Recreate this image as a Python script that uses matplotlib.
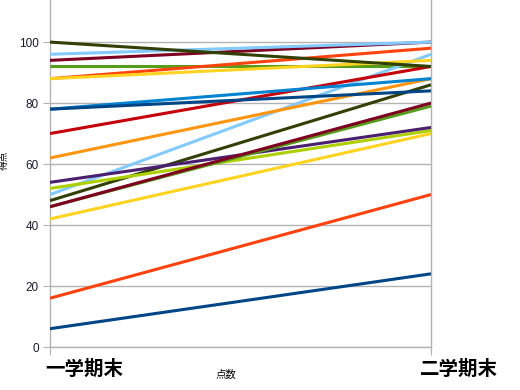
import matplotlib
matplotlib.use("Agg")
import matplotlib.pyplot as plt
import matplotlib.transforms as mtransforms

categories = ["一学期末", "二学期末"]
term1 = [6, 16, 42, 92, 94, 50, 48, 52, 54, 62, 70, 78, 78, 88, 88, 46, 46, 96, 100]
term2 = [24, 50, 70, 92, 100, 96, 86, 71, 72, 88, 92, 88, 84, 98, 94, 79, 80, 100, 92]
colors = ["#004586", "#ff420e", "#ffd320", "#579d1c", "#7e0021", "#83caff", "#314004",
          "#aecf00", "#4b1f6f", "#ff950e", "#c5000b", "#0084d1",
          "#004586", "#ff420e", "#ffd320", "#579d1c", "#7e0021", "#83caff", "#314004"]
yticks = [0, 20, 40, 60, 80, 100]

plt.rcParams['font.family'] = ['Noto Sans CJK JP', 'DejaVu Sans']

fig = plt.figure(figsize=(5.2, 3.9), dpi=100)
ax = fig.add_axes([50/520, 43/390, 381/520, 347/390])

xs = [0, 1]
for a, b, c in zip(term1, term2, colors):
    ax.plot(xs, [a, b], color=c, lw=2.2, solid_capstyle='butt', zorder=3)

ax.set_xlim(0, 1)
ax.set_ylim(0, 113.8)
ax.set_yticks(yticks)
ax.set_yticklabels([str(v) for v in yticks], fontsize=8.5, color='#1a1a2e',
                   family=['Liberation Sans', 'DejaVu Sans'])
ax.grid(axis='y', color='#b3b3b3', lw=1, zorder=1)
ax.set_axisbelow(True)
for s in ['left', 'right', 'bottom']:
    ax.spines[s].set_color('#b3b3b3')
    ax.spines[s].set_linewidth(1)
ax.spines['top'].set_visible(False)
ax.tick_params(axis='y', length=5, color='#b3b3b3', pad=3)
ax.tick_params(axis='x', length=6, color='#b3b3b3', pad=3)

ax.set_xticks(xs)
ax.set_xticklabels(categories, fontsize=14, fontweight='bold', color='black')
offsets = [-5, -11]
for lbl, off in zip(ax.get_xticklabels(), offsets):
    lbl.set_horizontalalignment('left')
    lbl.set_transform(lbl.get_transform() + mtransforms.ScaledTranslation(off/100, 0, fig.dpi_scale_trans))

ax.set_xlabel("点数", fontsize=7.5, color='black')
ax.xaxis.set_label_coords(0.462, -0.081)
ax.xaxis.label.set_verticalalignment('center')
fig.text(0.008, 0.59, "得点", rotation=90, fontsize=7, ha='center', va='center', color='black')

fig.savefig("out.png", dpi=100)
